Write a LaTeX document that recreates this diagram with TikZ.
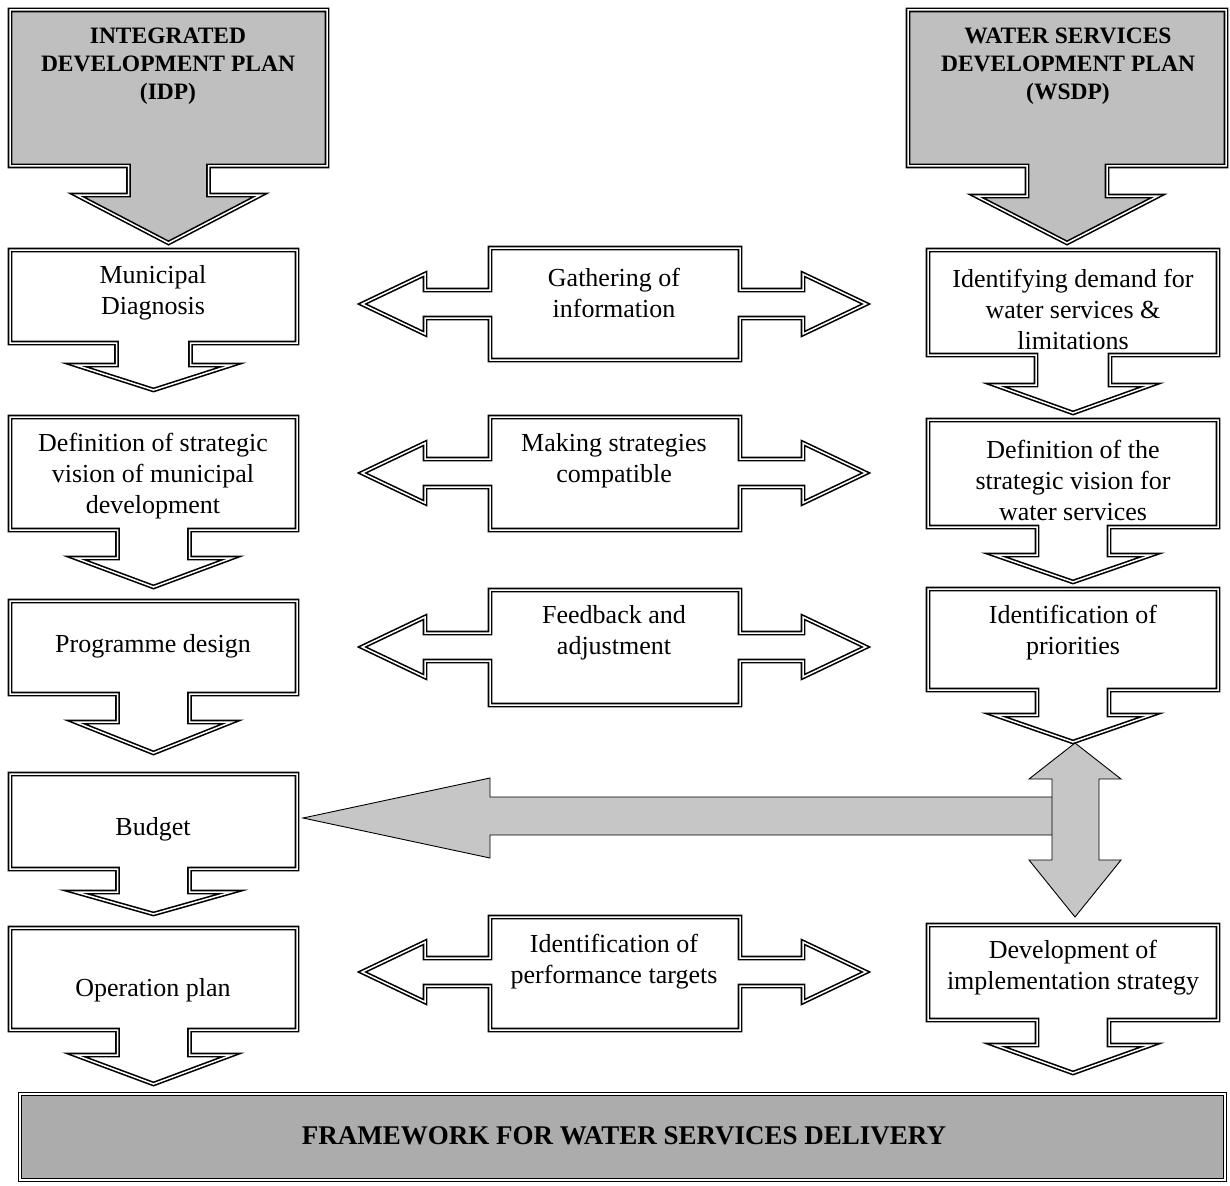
\documentclass[tikz,border=0pt]{standalone}
\usepackage{fontspec}
\setmainfont{Liberation Serif}
\begin{document}
\begin{tikzpicture}[x=1pt,y=-1pt,
  body/.style={font=\fontsize{26}{31}\selectfont, align=center, inner sep=0pt},
  ttl/.style={font=\bfseries\fontsize{23.5}{28}\selectfont, align=center, inner sep=0pt},
  dline/.style={draw=black, double=white, line width=1.6pt, double distance=1.5pt, line join=miter},
  graybox/.style={dline, fill=gray!50},
  whitebox/.style={dline, fill=white},
  grayarrow/.style={draw=black, line width=0.9pt, fill=gray!45, line join=miter}]
\useasboundingbox (0,0) rectangle (1230,1185);
% down callout: x1 y1 x2 y2 shafthalf winghalf headtop tip style
\newcommand\dcall[9]{%
  \pgfmathsetmacro\dcx{(#1+#3)/2}%
  \draw[#9] (#1,#2) -- (#3,#2) -- (#3,#4) -- (\dcx+#5,#4) -- (\dcx+#5,#7) -- (\dcx+#6,#7)
    -- (\dcx,#8) -- (\dcx-#6,#7) -- (\dcx-#5,#7) -- (\dcx-#5,#4) -- (#1,#4) -- cycle;}
% left-right callout: y1 y2 cy
\newcommand\hcall[3]{%
  \draw[whitebox] (490,#1) -- (740,#1) -- (740,#3-14) -- (803,#3-14) -- (803,#3-30) -- (866,#3)
    -- (803,#3+30) -- (803,#3+14) -- (740,#3+14) -- (740,#2) -- (490,#2) -- (490,#3+14)
    -- (425,#3+14) -- (425,#3+30) -- (362,#3) -- (425,#3-30) -- (425,#3-14) -- (490,#3-14) -- cycle;}

% ---- left column ----
\dcall{10}{10}{327}{166}{40}{92}{195}{243}{graybox}
\node[ttl] (idp) at (168,66) {INTEGRATED\\DEVELOPMENT PLAN\\(IDP)};
\dcall{10}{250}{297}{343}{37}{78}{365}{390}{whitebox}
\node[body] (md) at (153,293) {Municipal\\Diagnosis};
\dcall{10}{417}{297}{530}{36}{78}{558}{587}{whitebox}
\node[body] (ds) at (153,476) {Definition of strategic\\vision of municipal\\development};
\dcall{10}{601}{297}{694}{36}{78}{722}{753}{whitebox}
\node[body] (pd) at (153,646) {Programme design};
\dcall{10}{774}{297}{869}{36}{78}{892}{914}{whitebox}
\node[body] (bud) at (153,829) {Budget};
\dcall{10}{928}{297}{1030}{36}{78}{1055}{1084}{whitebox}
\node[body] (op) at (153,990) {Operation plan};

% ---- right column ----
\dcall{908}{10}{1226}{166}{40}{91}{196}{243}{graybox}
\node[ttl] (wsdp) at (1068,66) {WATER SERVICES\\DEVELOPMENT PLAN\\(WSDP)};
\dcall{928}{250}{1218}{355}{37}{78}{385}{413}{whitebox}
\node[body] (idw) at (1073,309) {Identifying demand for\\water services \&\\limitations};
\dcall{928}{420}{1218}{527}{36}{78}{555}{582}{whitebox}
\node[body] (dsw) at (1073,480) {Definition of the\\strategic vision for\\water services};
\dcall{928}{589}{1218}{690}{36}{78}{715}{742}{whitebox}
\node[body] (ip) at (1073,633) {Identification of\\priorities};
\dcall{928}{925}{1218}{1020}{36}{78}{1045}{1073}{whitebox}
\node[body] (dis) at (1073,968) {Development of\\implementation strategy};

% ---- middle ----
\hcall{248}{360}{304}
\node[body] (gi) at (614,293) {Gathering of\\information};
\hcall{417}{530}{473}
\node[body] (ms) at (614,461) {Making strategies\\compatible};
\hcall{590}{705}{647}
\node[body] (fa) at (614,633) {Feedback and\\adjustment};
\hcall{917}{1030}{972}
\node[body] (pt) at (614,962) {Identification of\\performance targets};

% ---- gray arrows ----
\draw[grayarrow] (1060,797) -- (490,797) -- (490,778) -- (303,818) -- (490,858) -- (490,835) -- (1060,835) -- cycle;
\draw[grayarrow] (1075,743) -- (1121,779) -- (1099,779) -- (1099,860) -- (1121,860) -- (1075,917)
  -- (1029,860) -- (1052,860) -- (1052,779) -- (1029,779) -- cycle;

% ---- banner ----
\draw[dline, fill=gray!65] (20,1094) rectangle (1225,1180);
\node[font=\bfseries\fontsize{27}{32}\selectfont, inner sep=0pt] (fw) at (624,1136) {FRAMEWORK FOR WATER SERVICES DELIVERY};
\end{tikzpicture}
\end{document}
